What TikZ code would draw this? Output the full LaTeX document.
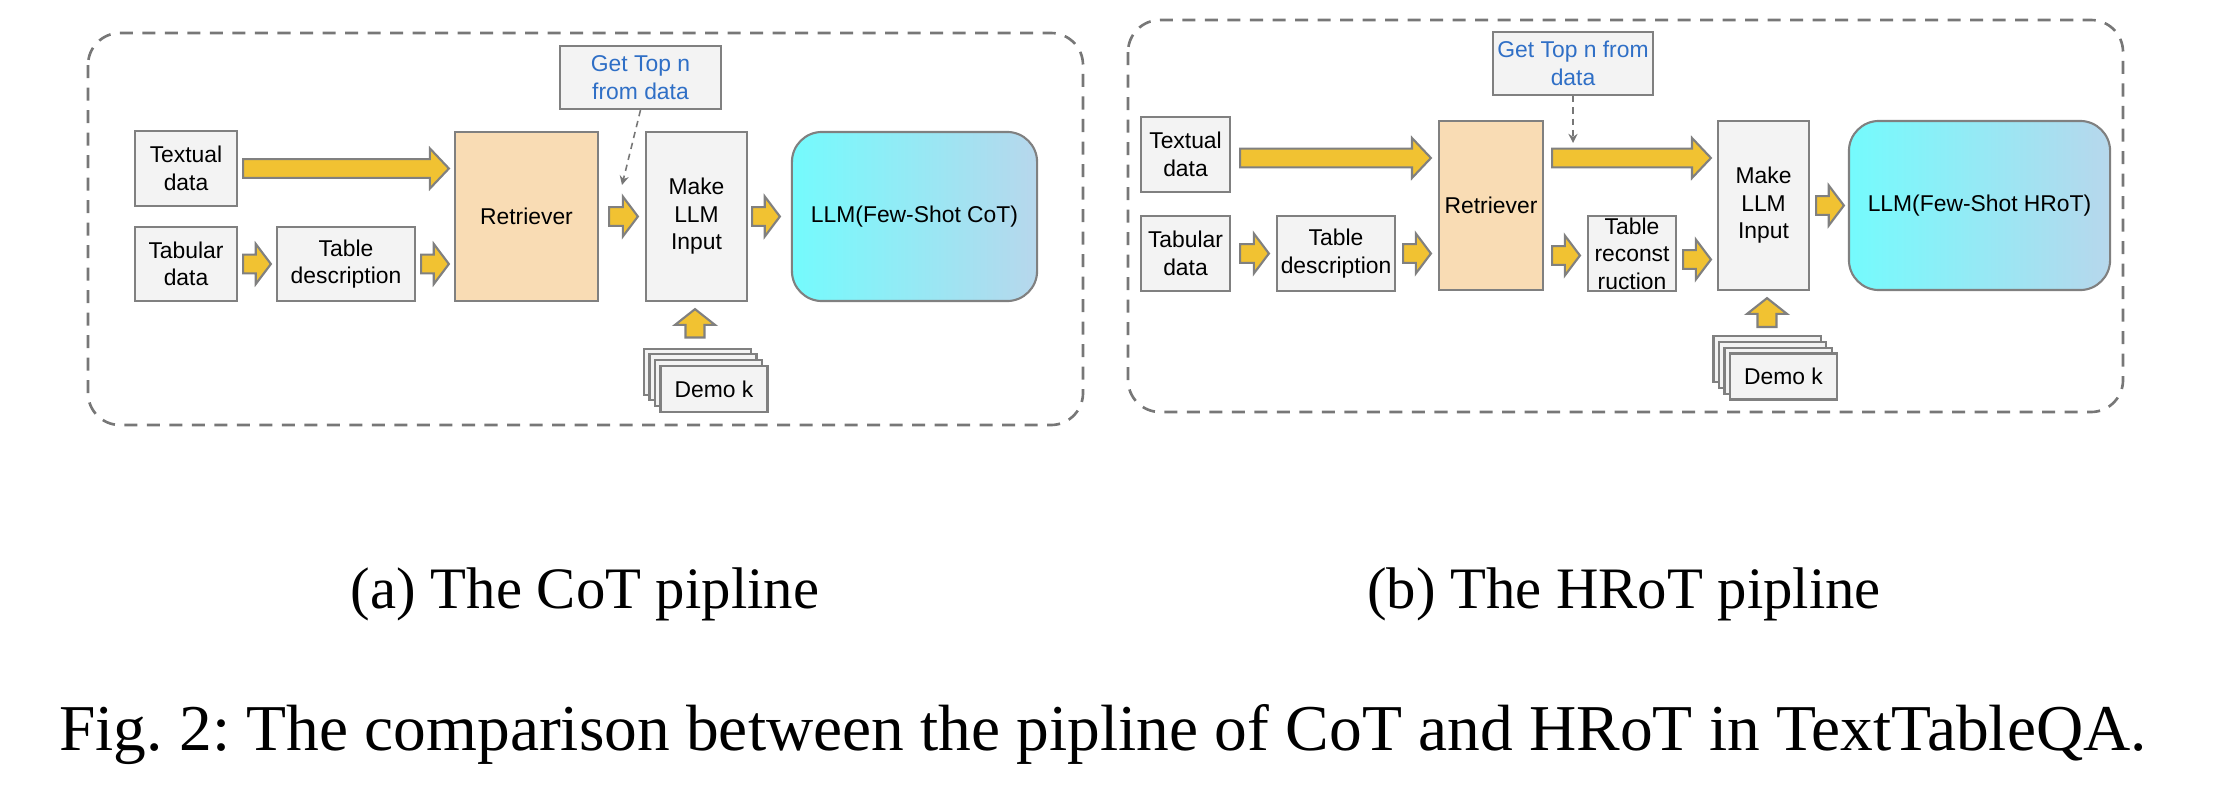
\documentclass[tikz,border=0pt]{standalone}
\usepackage{fontspec}
\setmainfont{Liberation Serif}
\setsansfont{Liberation Sans}
\usetikzlibrary{arrows.meta, calc}
\definecolor{boxgray}{HTML}{F3F3F3}
\definecolor{linegray}{HTML}{808080}
\definecolor{dashgray}{HTML}{777777}
\definecolor{retrorange}{HTML}{F9DCB4}
\definecolor{arrowyellow}{HTML}{F1C232}
\definecolor{llmcyan}{HTML}{74FBFD}
\definecolor{llmblue}{HTML}{B7D7EC}
\definecolor{hintblue}{HTML}{2F6FC6}
\frenchspacing
\tikzset{
    %Define style for boxes
    boks/.style={
           rectangle,
           draw=linegray, fill=boxgray,
           line width=0.6pt,
           inner sep=0pt,
           align=center,
           font=\sffamily\fontsize{6.5}{7.8}\selectfont},
    retrboks/.style={boks, fill=retrorange},
    llmboks/.style={
           rectangle,
           rounded corners=0.3cm,
           draw=linegray, line width=0.6pt,
           left color=llmcyan, right color=llmblue,
           inner sep=0pt,
           font=\sffamily\fontsize{6.5}{7.8}\selectfont},
    demoboks/.style={boks, minimum width=1.07cm, minimum height=0.46cm},
    % Define arrow styles
    fatpil/.style={
           fill=arrowyellow,
           draw=linegray,
           line width=0.6pt,
           line join=miter},
    stiplet/.style={
           draw=dashgray,
           line width=0.45pt,
           dash pattern=on 1.8pt off 1.4pt,
           -{Stealth[length=2.6pt,width=2.6pt]}},
    ramme/.style={
           draw=dashgray,
           line width=0.75pt,
           dash pattern=on 3.7pt off 2.7pt,
           rounded corners=0.32cm},
    tekst/.style={inner sep=0pt, font=\fontsize{16.7}{20}\selectfont},
    figtekst/.style={inner sep=0pt, font=\fontsize{18.6}{22}\selectfont}
}
% block arrows: tail, tip, head length
\newcommand{\fatpil}[3]{%
  \draw[fatpil] let \p1=#1, \p2=#2 in
    (\x1,\y1+2.65pt) -- (\x2-#3,\y1+2.65pt) -- (\x2-#3,\y1+5.7pt) -- (\x2,\y1)
    -- (\x2-#3,\y1-5.7pt) -- (\x2-#3,\y1-2.65pt) -- (\x1,\y1-2.65pt) -- cycle;}
\newcommand{\fatpilop}[3]{%
  \draw[fatpil] let \p1=#1, \p2=#2 in
    (\x1-2.7pt,\y1) -- (\x1-2.7pt,\y2-#3) -- (\x1-5.7pt,\y2-#3) -- (\x1,\y2)
    -- (\x1+5.7pt,\y2-#3) -- (\x1+2.7pt,\y2-#3) -- (\x1+2.7pt,\y1) -- cycle;}

\begin{document}
\begin{tikzpicture}[x=0.01cm, y=-0.01cm]
	\useasboundingbox (0,0) rectangle (2216,806);
	%
	% (a) CoT
	%
	\draw[ramme] (88,33) rectangle (1083,425);
	\node[boks, minimum width=1.02cm, minimum height=0.75cm] (textA) at (186,168.5) {Textual\\data};
	\node[boks, minimum width=1.02cm, minimum height=0.74cm] (tabA) at (186,264) {Tabular\\data};
	\node[boks, minimum width=1.38cm, minimum height=0.74cm] (descA) at (346,264) {Table\\description};
	\node[retrboks, minimum width=1.43cm, minimum height=1.69cm] (retrA) at (526.5,216.5) {Retriever};
	\node[boks, text=hintblue, minimum width=1.61cm, minimum height=0.63cm] (topA) at (640.5,77.5) {Get Top n\\from data};
	\node[boks, minimum width=1.01cm, minimum height=1.69cm] (makeA) at (696.5,216.5) {Make\\LLM\\Input};
	\node[llmboks, minimum width=2.45cm, minimum height=1.69cm] (llmA) at (914.5,216.5) {LLM(Few-Shot CoT)};
	\foreach \i in {1,2,3}
		\node[demoboks] (demoA\i) at (714-22+5.5*\i, 389-23.2+5.8*\i) {};
	\node[demoboks] (demoA4) at (714,389) {Demo k};
	\coordinate (hintA) at (622,185);
	%
	% Liens
	%
	\fatpil{([shift={(5,0)}]textA.east)}{([shift={(-5,0)}]retrA.west)}{5.4pt}
	\fatpil{([shift={(5,0)}]tabA.east)}{([shift={(-5,0)}]descA.west)}{4.3pt}
	\fatpil{([shift={(5,0)}]descA.east)}{([shift={(-5,0)}]retrA.west)}{4.3pt}
	\fatpil{([shift={(10,0)}]retrA.east)}{([shift={(-7,0)}]makeA.west)}{4.3pt}
	\fatpil{([shift={(4,0)}]makeA.east)}{([shift={(-11,0)}]llmA.west)}{4.3pt}
	\fatpilop{([shift={(-2.5,-10)}]demoA1.north)}{([shift={(0,7)}]makeA.south)}{4.5pt}
	\draw[stiplet] (topA.south) -- (hintA);
	%
	% (b) HRoT
	%
	\draw[ramme] (1128,20) rectangle (2123,412);
	\node[boks, minimum width=0.89cm, minimum height=0.75cm] (textB) at (1185.5,154.5) {Textual\\data};
	\node[boks, minimum width=0.89cm, minimum height=0.75cm] (tabB) at (1185.5,253.5) {Tabular\\data};
	\node[boks, minimum width=1.18cm, minimum height=0.75cm] (descB) at (1336,253.5) {Table\\description};
	\node[retrboks, minimum width=1.04cm, minimum height=1.69cm] (retrB) at (1491,205.5) {Retriever};
	\node[boks, text=hintblue, minimum width=1.60cm, minimum height=0.63cm] (topB) at (1573,63.5) {Get Top n from\\data};
	\node[boks, minimum width=0.88cm, minimum height=0.75cm] (reconB) at (1632,253.5) {Table\\reconst\\ruction};
	\node[boks, minimum width=0.91cm, minimum height=1.69cm] (makeB) at (1763.5,205.5) {Make\\LLM\\Input};
	\node[llmboks, minimum width=2.61cm, minimum height=1.69cm] (llmB) at (1979.5,205.5) {LLM(Few-Shot HRoT)};
	\foreach \i in {1,2,3}
		\node[demoboks] (demoB\i) at (1783.5-22+5.5*\i, 376.5-23.2+5.8*\i) {};
	\node[demoboks] (demoB4) at (1783.5,376.5) {Demo k};
	\coordinate (hintB) at (1573,143);
	%
	% Liens
	%
	\fatpil{([shift={(9,3.5)}]textB.east)}{([shift={(-7,0)}]retrB.west)}{5.4pt}
	\fatpil{([shift={(8,-47.5)}]retrB.east)}{([shift={(-6,0)}]makeB.west)}{5.4pt}
	\fatpil{([shift={(9,0)}]tabB.east)}{([shift={(-7,0)}]descB.west)}{4.3pt}
	\fatpil{([shift={(7,0)}]descB.east)}{([shift={(-7,0)}]retrB.west)}{4.3pt}
	\fatpil{([shift={(8,50)}]retrB.east)}{([shift={(-7,0)}]reconB.west)}{4.3pt}
	\fatpil{([shift={(6,6)}]reconB.east)}{([shift={(-6,0)}]makeB.west)}{4.3pt}
	\fatpil{([shift={(6,0)}]makeB.east)}{([shift={(-4,0)}]llmB.west)}{4.3pt}
	\fatpilop{([shift={(0,-8)}]demoB1.north)}{([shift={(0,7)}]makeB.south)}{4.5pt}
	\draw[stiplet] (topB.south) -- (hintB);
	%
	% captions
	%
	\node[tekst, anchor=base] (capA) at (585,608) {(a) The CoT pipline};
	\node[tekst, anchor=base] (capB) at (1624,608) {(b) The HRoT pipline};
	\node[figtekst, anchor=base] (capFig) at (1103,750) {Fig. 2: The comparison between the pipline of CoT and HRoT in TextTableQA.};
\end{tikzpicture}
\end{document}
